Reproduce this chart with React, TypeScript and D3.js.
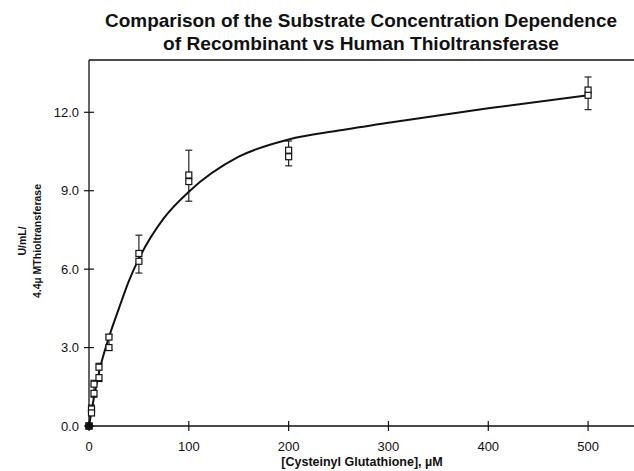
import React from "react";
import * as d3 from "d3";

const titleLines = [
  "Comparison of the Substrate Concentration Dependence",
  "of Recombinant vs Human Thioltransferase",
];
const titleWidths = [512, 396];
const xTitle = "[Cysteinyl Glutathione], \u00B5M";
const yTitleLines = ["U/mL/", "4.4\u00B5 MThioltransferase"];

const xTicks = [0, 100, 200, 300, 400, 500];
const yTicks = [0, 3, 6, 9, 12];

const conc = [0, 2.5, 5, 10, 20, 50, 100, 200, 500];
const recombinant = [0, 0.65, 1.6, 2.25, 3.4, 6.6, 9.6, 10.55, 12.85];
const human = [0, 0.5, 1.25, 1.85, 3.0, 6.3, 9.35, 10.3, 12.65];
const errLow = [0, 0.4, 1.1, 1.7, 2.9, 5.85, 8.6, 9.95, 12.1];
const errHigh = [0.05, 0.8, 1.75, 2.4, 3.5, 7.3, 10.55, 10.9, 13.35];

const fitX = [0, 2.5, 5, 10, 20, 30, 40, 50, 75, 100, 150, 200, 250, 300, 400, 500];
const fitY = [0, 0.55, 1.1, 2.05, 3.4, 4.5, 5.55, 6.4, 7.95, 8.96, 10.3, 10.96, 11.3, 11.6, 12.15, 12.65];

const W = 634;
const H = 471;
const left = 89;
const top = 60;
const bottom = 426;

export default function App() {
  const x = d3.scaleLinear().domain([0, 550]).range([left, left + 549]);
  const y = d3.scaleLinear().domain([0, 14]).range([bottom, top]);
  const line = d3
    .line<number>()
    .x((d, i) => x(fitX[i]))
    .y((d) => y(d))
    .curve(d3.curveMonotoneX);
  const font = "'Liberation Sans', Arial, sans-serif";
  const sq = 6;
  return (
    <svg
      width={W}
      height={H}
      style={{ position: "absolute", left: 0, top: 0, background: "#fff" }}
      fontFamily={font}
    >
      <rect x={0} y={0} width={W} height={H} fill="#fff" />
      {titleLines.map((t, i) => (
        <text
          key={t}
          x={361}
          y={27 + i * 23}
          textAnchor="middle"
          fontSize={18.5}
          fontWeight="bold"
          fill="#111"
          textLength={titleWidths[i]}
          lengthAdjust="spacingAndGlyphs"
        >
          {t}
        </text>
      ))}
      {/* frame */}
      <line x1={left} x2={W} y1={top} y2={top} stroke="#111" strokeWidth={1.3} />
      <line x1={left} x2={left} y1={top} y2={bottom} stroke="#111" strokeWidth={1.3} />
      <line x1={left} x2={W} y1={bottom} y2={bottom} stroke="#111" strokeWidth={1.3} />
      {yTicks.map((t) => (
        <g key={"y" + t}>
          <line x1={left - 5} x2={left + 5} y1={y(t)} y2={y(t)} stroke="#111" strokeWidth={1.2} />
          <text x={79} y={y(t) + 4.5} textAnchor="end" fontSize={13} fill="#111">
            {t.toFixed(1)}
          </text>
        </g>
      ))}
      {xTicks.map((t) => (
        <g key={"x" + t}>
          <line x1={x(t)} x2={x(t)} y1={bottom - 5} y2={bottom + 5} stroke="#111" strokeWidth={1.2} />
          <text x={x(t)} y={451} textAnchor="middle" fontSize={13} fill="#111">
            {t}
          </text>
        </g>
      ))}
      <text x={362} y={466} textAnchor="middle" fontSize={12.5} fontWeight="bold" fill="#111">
        {xTitle}
      </text>
      {yTitleLines.map((t, i) => (
        <text
          key={t}
          transform={`translate(${26 + i * 15},241) rotate(-90)`}
          textAnchor="middle"
          fontSize={10.5}
          fontWeight="bold"
          fill="#111"
        >
          {t}
        </text>
      ))}
      <path d={line(fitY) || ""} fill="none" stroke="#111" strokeWidth={2} />
      {conc.map((c, i) => (
        <g key={"e" + i} stroke="#111" strokeWidth={1.1}>
          <line x1={x(c)} x2={x(c)} y1={y(errLow[i])} y2={y(errHigh[i])} />
          <line x1={x(c) - 3.5} x2={x(c) + 3.5} y1={y(errLow[i])} y2={y(errLow[i])} />
          <line x1={x(c) - 3.5} x2={x(c) + 3.5} y1={y(errHigh[i])} y2={y(errHigh[i])} />
        </g>
      ))}
      {conc.map((c, i) => (
        <rect
          key={"r" + i}
          x={x(c) - sq / 2}
          y={y(recombinant[i]) - sq / 2}
          width={sq}
          height={sq}
          fill="#fff"
          stroke="#111"
          strokeWidth={1.2}
        />
      ))}
      {conc.map((c, i) => (
        <rect
          key={"h" + i}
          x={x(c) - sq / 2}
          y={y(human[i]) - sq / 2}
          width={sq}
          height={sq}
          fill="#fff"
          stroke="#111"
          strokeWidth={1.2}
        />
      ))}
      <circle cx={x(0)} cy={y(0)} r={3.5} fill="#111" />
    </svg>
  );
}
